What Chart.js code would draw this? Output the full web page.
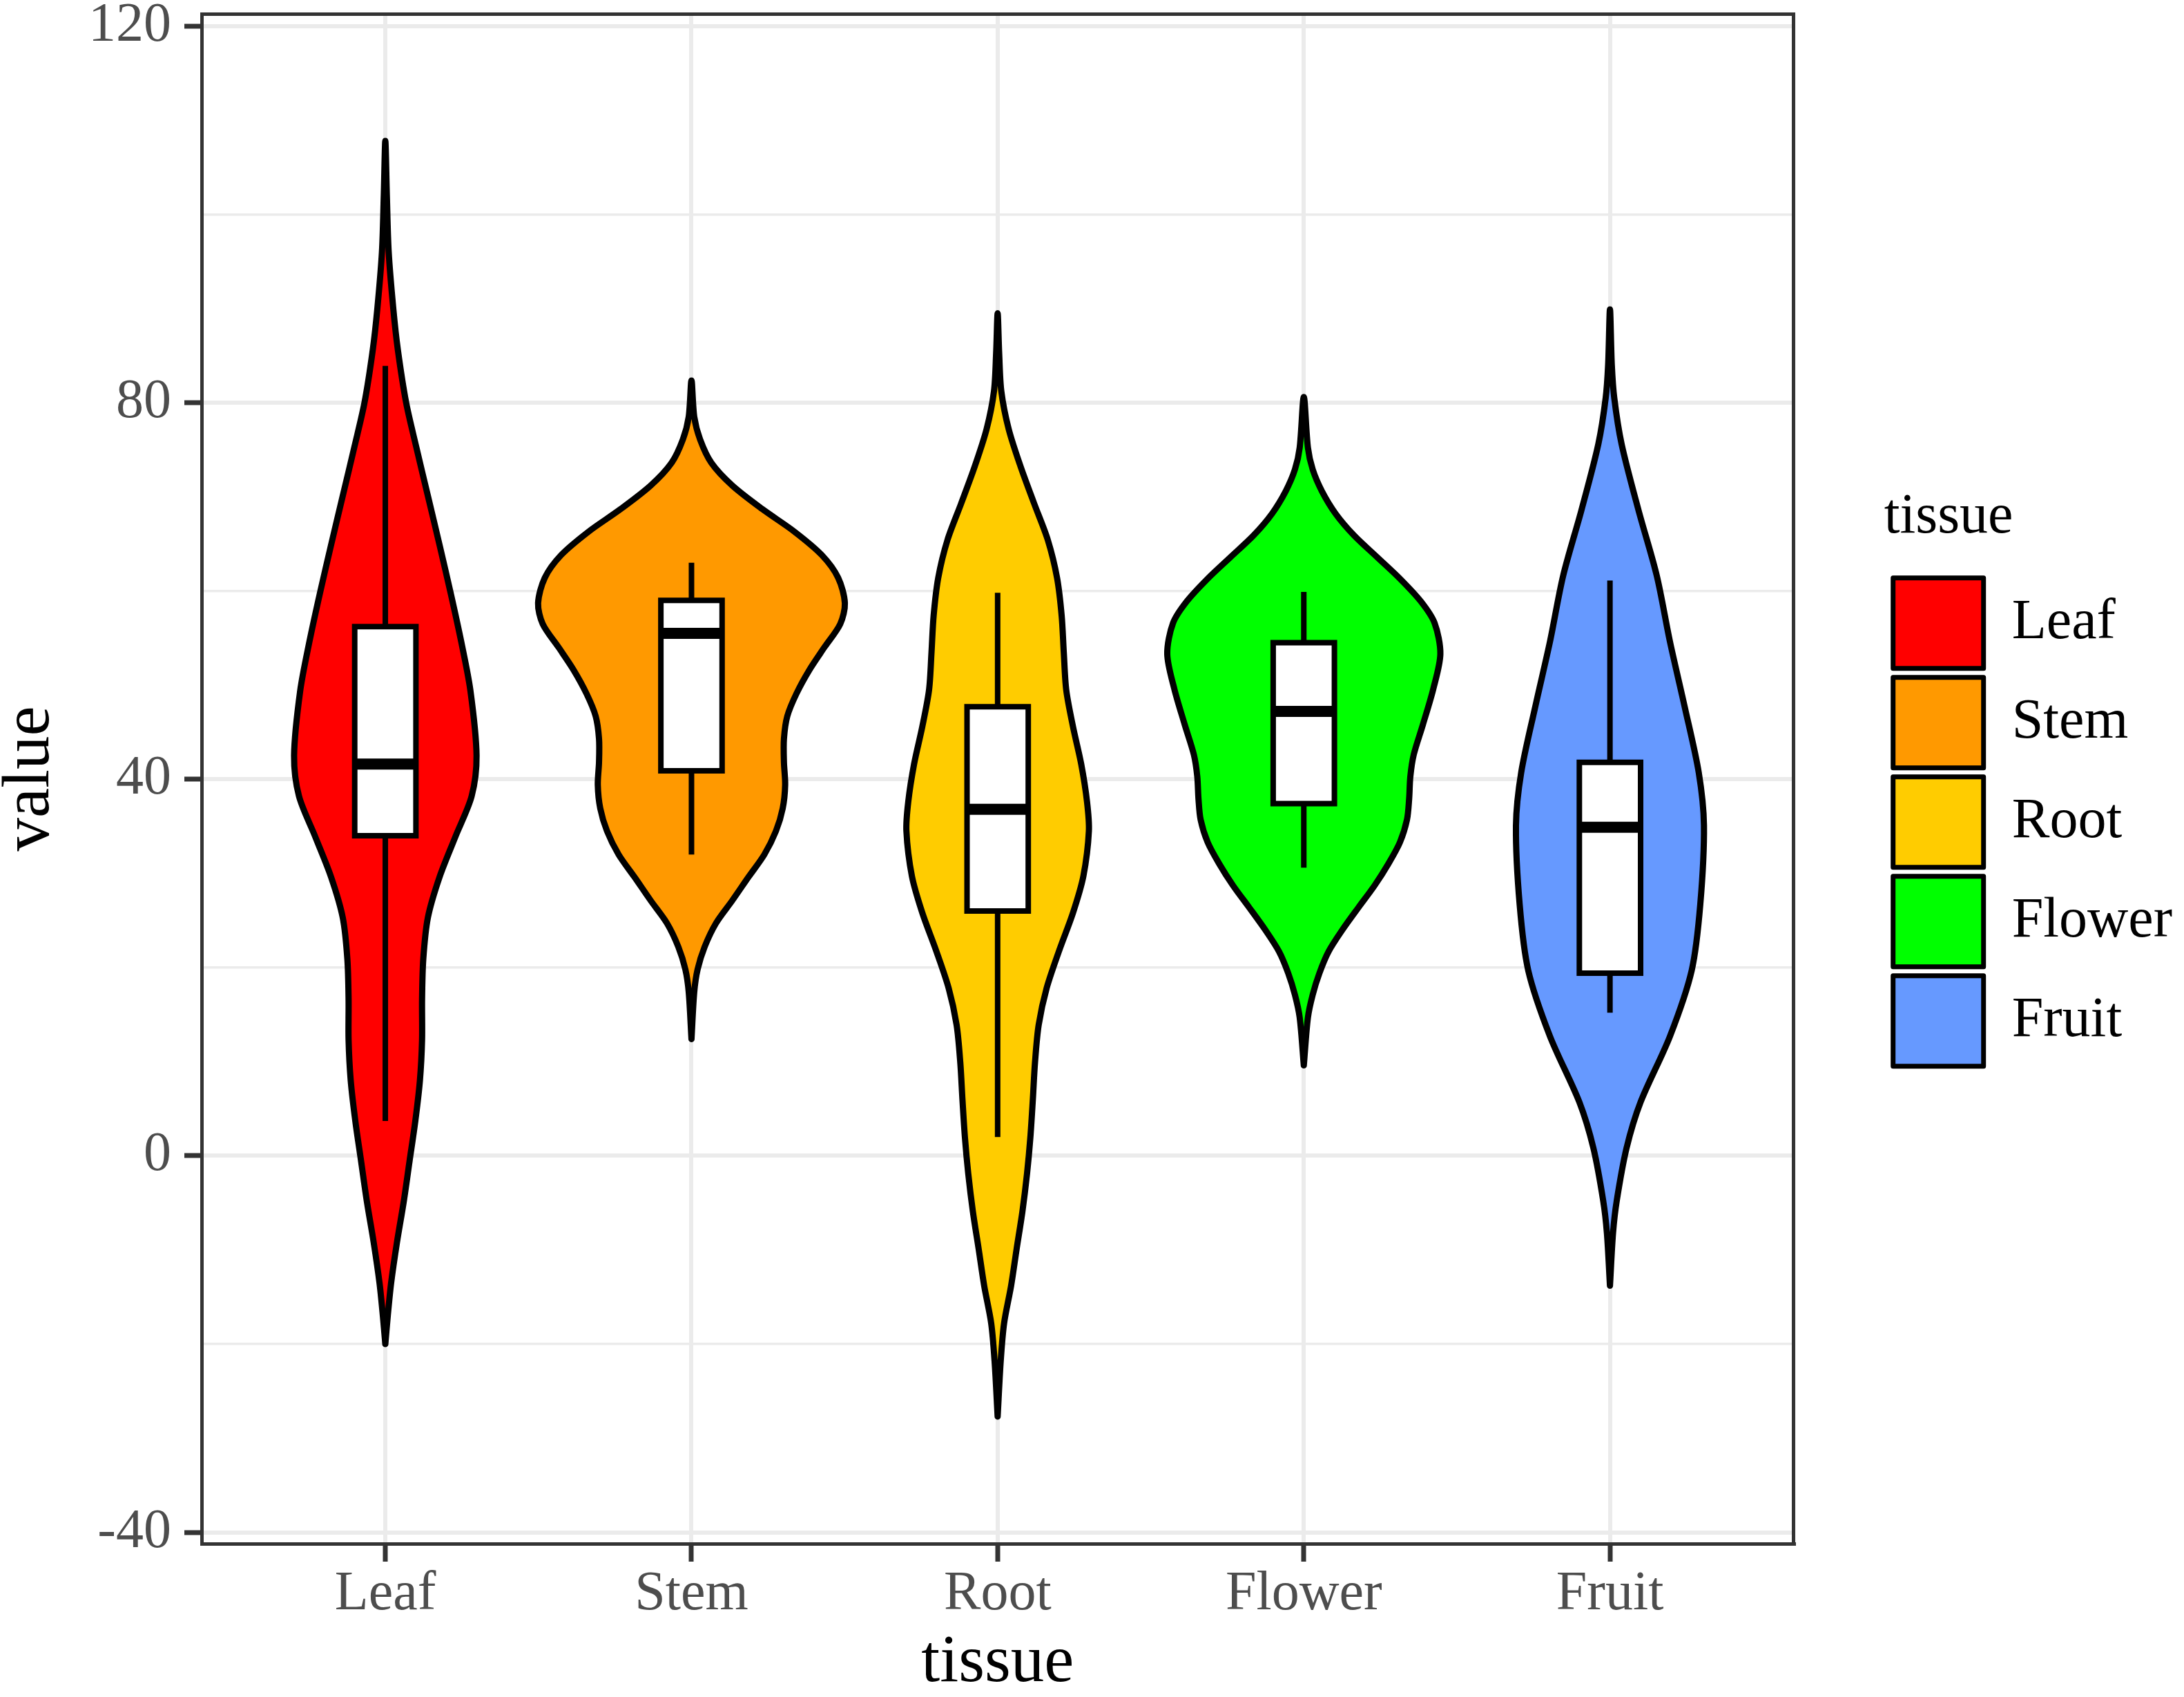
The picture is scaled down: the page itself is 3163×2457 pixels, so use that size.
<!DOCTYPE html>
<html>
<head>
<meta charset="utf-8">
<script src="https://cdn.jsdelivr.net/npm/chart.js@4.4.1/dist/chart.umd.min.js"></script>
<style>
  html, body { margin: 0; padding: 0; background: #ffffff; }
  canvas { display: block; }
</style>
</head>
<body>
<canvas id="violinChart" width="3163" height="2457"></canvas>
<script>
// Kategori jaringan
const tissues = ['Leaf', 'Stem', 'Root', 'Flower', 'Fruit'];
const fillColors = ['#FF0000', '#FF9900', '#FFCC00', '#00FF00', '#6699FF'];

// Tick sumbu y
const yMajorTicks = [-40, 0, 40, 80, 120];
const yMinorTicks = [-20, 20, 60, 100];

// Profil violin: nilai (y) dan setengah lebar (satuan sumbu x)
const leafLevels = [-20, -17, -13.5, -9.2, -4.9, -0.6, 3.7, 8.0, 12.3, 16.6, 20.9, 25.3, 29.6, 33.9, 38.2, 42.5, 49.4, 54.6, 59.7, 64.9, 70.1, 75.3, 80, 85.6, 90, 96, 102, 107.8];
const leafWidths = [0, 0.008, 0.019, 0.038, 0.06, 0.079, 0.098, 0.113, 0.12, 0.12, 0.124, 0.139, 0.177, 0.229, 0.282, 0.298, 0.278, 0.248, 0.214, 0.177, 0.139, 0.101, 0.068, 0.041, 0.026, 0.011, 0.005, 0];

const stemLevels = [12.4, 17.4, 19.8, 22.2, 24.7, 27.1, 29.6, 32, 34.5, 36.9, 39.4, 41.8, 44.3, 46.7, 49.1, 51.6, 54, 56.5, 58.7, 61.4, 63.8, 66.3, 68.7, 71.2, 73.6, 76.1, 78.5, 82.35];
const stemWidths = [0, 0.009, 0.02, 0.043, 0.08, 0.133, 0.186, 0.238, 0.276, 0.298, 0.306, 0.302, 0.302, 0.313, 0.343, 0.385, 0.434, 0.486, 0.501, 0.479, 0.426, 0.336, 0.231, 0.133, 0.065, 0.028, 0.009, 0];

const rootLevels = [-27.7, -21.8, -17.8, -13.8, -9.9, -5.9, -1.9, 2, 6, 9.9, 13.9, 17.8, 21.8, 25.8, 29.7, 34.5, 37.6, 41.6, 45.6, 49.5, 53.5, 57.4, 61.4, 65.4, 69.3, 73.3, 77.2, 81.2, 85.2, 89.5];
const rootWidths = [0, 0.01, 0.021, 0.044, 0.062, 0.081, 0.096, 0.107, 0.115, 0.122, 0.134, 0.16, 0.201, 0.246, 0.28, 0.298, 0.292, 0.273, 0.246, 0.224, 0.216, 0.209, 0.194, 0.164, 0.119, 0.074, 0.036, 0.012, 0.005, 0];

const flowerLevels = [9.6, 14.7, 17.1, 19.4, 21.7, 24, 26.4, 28.7, 31, 33.3, 35.7, 37.9, 40.3, 42.6, 45.8, 49.6, 53.3, 56.6, 58.9, 61.3, 63.6, 65.9, 68.2, 70.6, 72.9, 75.2, 80.6];
const flowerWidths = [0, 0.0135, 0.029, 0.051, 0.081, 0.126, 0.179, 0.231, 0.276, 0.314, 0.337, 0.344, 0.348, 0.359, 0.389, 0.423, 0.446, 0.427, 0.382, 0.314, 0.239, 0.164, 0.104, 0.059, 0.029, 0.0135, 0];

const fruitLevels = [-13.8, -8.2, -4.8, 0.8, 5.7, 12.7, 19.7, 26.7, 35.1, 40.7, 47.7, 54.6, 61.6, 68.6, 75.6, 80.5, 84, 89.9];
const fruitWidths = [0, 0.01, 0.022, 0.054, 0.1, 0.196, 0.267, 0.295, 0.307, 0.29, 0.244, 0.196, 0.153, 0.093, 0.038, 0.014, 0.006, 0];

// Statistik boxplot
const whiskerLow = [3.7, 32.0, 2.0, 30.6, 15.2];
const quart1 = [34.0, 40.9, 26.0, 37.4, 19.4];
const medians = [41.6, 55.5, 36.8, 47.2, 34.9];
const quart3 = [56.2, 59.0, 47.7, 54.5, 41.8];
const whiskerHigh = [83.9, 63.0, 59.8, 59.9, 61.1];

const violinLevels = [leafLevels, stemLevels, rootLevels, flowerLevels, fruitLevels];
const violinWidths = [leafWidths, stemWidths, rootWidths, flowerWidths, fruitWidths];

const boxHalf = 0.1;
const fontFamily = "'Liberation Serif', 'Times New Roman', serif";
const axisGray = '#333333';
const gridGray = '#EBEBEB';

Chart.defaults.font.family = fontFamily;

// Garis luar violin: sisi kanan naik, sisi kiri turun
function violinOutline(i) {
    const c = i + 1;
    const lv = violinLevels[i];
    const wd = violinWidths[i];
    const right = lv.map((y, k) => ({ x: c + wd[k], y: y }));
    const left = lv.map((y, k) => ({ x: c - wd[k], y: y })).reverse();
    return right.concat(left.slice(1));
}

function boxOutline(i) {
    const c = i + 1;
    return [
        { x: c - boxHalf, y: quart1[i] },
        { x: c + boxHalf, y: quart1[i] },
        { x: c + boxHalf, y: quart3[i] },
        { x: c - boxHalf, y: quart3[i] },
        { x: c - boxHalf, y: quart1[i] },
        { x: c + boxHalf, y: quart1[i] }
    ];
}

const lineBase = {
    showLine: true,
    pointRadius: 0,
    pointHoverRadius: 0,
    pointHitRadius: 0,
    borderColor: '#000000'
};

const datasets = [];
tissues.forEach((name, i) => {
    const c = i + 1;
    datasets.push(Object.assign({}, lineBase, {
        label: name,
        data: violinOutline(i),
        backgroundColor: fillColors[i],
        borderWidth: 9,
        fill: 'shape',
        tension: 0.3,
        borderJoinStyle: 'round',
        borderCapStyle: 'round',
        order: 3
    }));
    datasets.push(Object.assign({}, lineBase, {
        label: name + ' whisker',
        data: [{ x: c, y: whiskerLow[i] }, { x: c, y: whiskerHigh[i] }],
        borderWidth: 8,
        fill: false,
        order: 2
    }));
    datasets.push(Object.assign({}, lineBase, {
        label: name + ' box',
        data: boxOutline(i),
        backgroundColor: '#FFFFFF',
        borderWidth: 8,
        fill: 'shape',
        tension: 0,
        borderJoinStyle: 'miter',
        order: 1
    }));
    datasets.push(Object.assign({}, lineBase, {
        label: name + ' median',
        data: [{ x: c - boxHalf, y: medians[i] }, { x: c + boxHalf, y: medians[i] }],
        borderWidth: 16,
        borderCapStyle: 'butt',
        fill: false,
        order: 0
    }));
});

const ctx = document.getElementById('violinChart').getContext('2d');
const violinChart = new Chart(ctx, {
    type: 'scatter',
    data: { datasets: datasets },
    options: {
        responsive: false,
        devicePixelRatio: 1,
        animation: false,
        events: [],
        layout: { padding: { left: 0, right: 7, top: 0, bottom: 0 } },
        scales: {
            x: {
                type: 'linear',
                position: 'bottom',
                min: 0.4,
                max: 5.6,
                afterBuildTicks: (scale) => {
                    scale.ticks = tissues.map((t, i) => ({ value: i + 1 }));
                },
                afterFit: (scale) => { scale.height = 222; },
                ticks: {
                    autoSkip: false,
                    maxRotation: 0,
                    padding: 0,
                    color: '#4D4D4D',
                    font: { size: 80 },
                    callback: (value) => tissues[Math.round(value) - 1]
                },
                grid: {
                    color: gridGray,
                    lineWidth: 6,
                    tickColor: axisGray,
                    tickLength: 26,
                    tickWidth: 7
                },
                border: { color: axisGray, width: 5 },
                title: {
                    display: true,
                    text: 'tissue',
                    color: '#000000',
                    font: { size: 97, lineHeight: 0.9 },
                    padding: { top: 0, bottom: 5 }
                }
            },
            y: {
                type: 'linear',
                position: 'left',
                min: -41.2,
                max: 121.3,
                afterBuildTicks: (scale) => {
                    scale.ticks = yMajorTicks.concat(yMinorTicks)
                        .sort((a, b) => a - b)
                        .map((v) => ({ value: v }));
                },
                afterFit: (scale) => { scale.width = 292; },
                ticks: {
                    autoSkip: false,
                    padding: 19,
                    color: '#4D4D4D',
                    font: { size: 80, lineHeight: 0.02 },
                    callback: (value) => yMajorTicks.includes(value) ? String(value) : ''
                },
                grid: {
                    color: gridGray,
                    lineWidth: (c) => (c.tick && yMajorTicks.includes(c.tick.value)) ? 6 : 3.5,
                    tickColor: (c) => (c.tick && yMajorTicks.includes(c.tick.value)) ? axisGray : 'rgba(0,0,0,0)',
                    tickLength: 25,
                    tickWidth: 7
                },
                border: { color: axisGray, width: 5 },
                title: {
                    display: true,
                    text: 'value',
                    color: '#000000',
                    font: { size: 97, lineHeight: 0.9 },
                    padding: { top: 1, bottom: 0 }
                }
            },
            // Bingkai panel atas dan kanan
            xTop: {
                type: 'linear',
                axis: 'x',
                position: 'top',
                afterFit: (scale) => { scale.height = 20; },
                ticks: { display: false },
                grid: { display: false, drawTicks: false, lineWidth: 5 },
                border: { display: true, color: axisGray, width: 5 }
            },
            yRight: {
                type: 'linear',
                axis: 'y',
                position: 'right',
                afterFit: (scale) => { scale.width = 131; },
                ticks: { display: false },
                grid: { display: false, drawTicks: false, lineWidth: 5 },
                border: { display: true, color: axisGray, width: 5 }
            }
        },
        plugins: {
            tooltip: { enabled: false },
            legend: {
                position: 'right',
                align: 'center',
                fullSize: false,
                labels: {
                    boxWidth: 131,
                    boxHeight: 131,
                    padding: 13,
                    color: '#000000',
                    font: { size: 82 },
                    generateLabels: (chart) => Chart.defaults.plugins.legend.labels.generateLabels(chart)
                        .map((item) => Object.assign(item, { lineWidth: 7 })),
                    filter: (item) => tissues.includes(item.text)
                },
                title: {
                    display: true,
                    text: 'tissue',
                    position: 'start',
                    color: '#000000',
                    font: { size: 82 },
                    padding: { top: 10, bottom: 17 }
                }
            }
        }
    }
});
</script>
</body>
</html>
